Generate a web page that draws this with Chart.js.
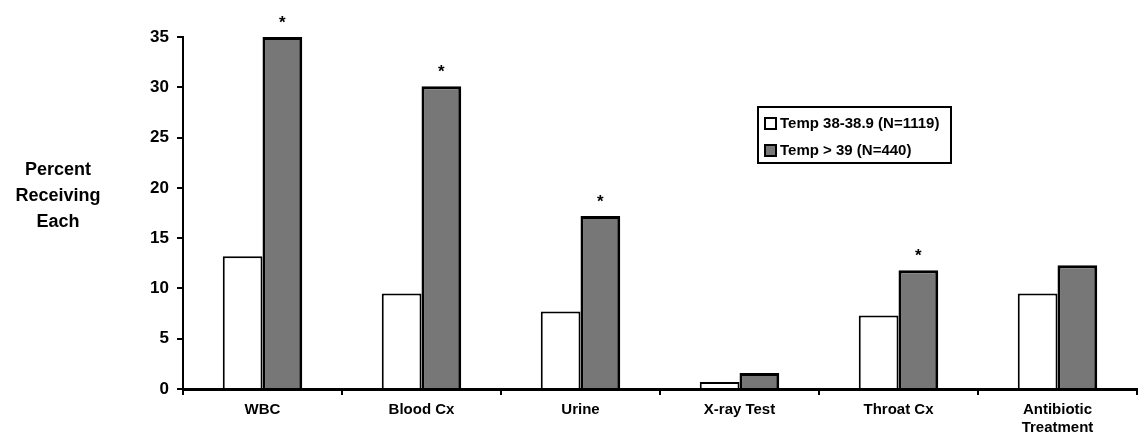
<!DOCTYPE html>
<html>
<head>
<meta charset="utf-8">
<script src="https://cdn.jsdelivr.net/npm/chart.js@4/dist/chart.umd.min.js"></script>
<style>
  html, body { margin: 0; padding: 0; background: #fff; }
  #wrap { position: relative; width: 1139px; height: 435px; }
</style>
</head>
<body>
<div id="wrap"><canvas id="chart"></canvas></div>
<script>
// Categories and series
const categories = ['WBC', 'Blood Cx', 'Urine', 'X-ray Test', 'Throat Cx', ['Antibiotic', 'Treatment']];
const lowTemp = [13.2, 9.5, 7.7, 0.7, 7.3, 9.5];
const highTemp = [35, 30.1, 17.2, 1.6, 11.8, 12.3];
const highTempStar = [true, true, true, false, true, false];
const seriesLabels = ['Temp 38-38.9 (N=1119)', 'Temp > 39 (N=440)'];
const yTicks = [0, 5, 10, 15, 20, 25, 30, 35];

const FONT = 'Liberation Sans, Arial, sans-serif';
const GRAY = '#777777';

// Y axis title, stars and the boxed legend
const extras = {
  id: 'extras',
  afterDraw(chart) {
    const ctx = chart.ctx;
    ctx.save();
    ctx.fillStyle = '#000';
    ctx.textAlign = 'center';
    ctx.textBaseline = 'middle';
    ctx.font = 'bold 18px ' + FONT;
    ['Percent', 'Receiving', 'Each'].forEach((t, i) => ctx.fillText(t, 58, 170 + i * 26));

    // significance stars over the high-temp bars
    const meta = chart.getDatasetMeta(1);
    ctx.font = 'bold 17px ' + FONT;
    meta.data.forEach((bar, i) => {
      if (highTempStar[i]) ctx.fillText('*', bar.x, bar.y - 14);
    });

    // legend box
    const lx = 758, ly = 107, lw = 193, lh = 56;
    ctx.lineWidth = 2;
    ctx.strokeStyle = '#000';
    ctx.strokeRect(lx, ly, lw, lh);
    ctx.font = 'bold 15px ' + FONT;
    ctx.textAlign = 'left';
    const fills = ['#fff', GRAY];
    seriesLabels.forEach((lab, i) => {
      const y = ly + 16 + i * 27;
      ctx.fillStyle = fills[i];
      ctx.fillRect(765, y - 5, 11, 11);
      ctx.strokeRect(765, y - 5, 11, 11);
      ctx.fillStyle = '#000';
      ctx.fillText(lab, 780, y + 1);
    });
    ctx.restore();
  }
};

new Chart(document.getElementById('chart'), {
  type: 'bar',
  data: {
    labels: categories,
    datasets: [
      {
        label: seriesLabels[0],
        data: lowTemp,
        backgroundColor: '#fff',
        borderColor: '#000',
        borderWidth: 2,
        categoryPercentage: 0.5,
        barPercentage: 1.0
      },
      {
        label: seriesLabels[1],
        data: highTemp,
        backgroundColor: GRAY,
        borderColor: '#000',
        borderWidth: 3,
        categoryPercentage: 0.5,
        barPercentage: 1.0
      }
    ]
  },
  options: {
    responsive: true,
    maintainAspectRatio: false,
    animation: false,
    layout: { padding: { top: 37, right: 2, left: 0, bottom: 0 } },
    plugins: {
      legend: { display: false },
      tooltip: { enabled: false }
    },
    scales: {
      x: {
        offset: true,
        grid: { offset: true, drawOnChartArea: false, drawTicks: true, tickLength: 6, color: '#000', lineWidth: 2 },
        border: { color: '#000', width: 3 },
        ticks: {
          color: '#000',
          font: { family: FONT, size: 15, weight: 'bold' },
          maxRotation: 0,
          autoSkip: false,
          padding: 6
        },
        afterFit(scale) { scale.height = 46; }
      },
      y: {
        min: 0,
        max: 35,
        afterBuildTicks(scale) { scale.ticks = yTicks.map(v => ({ value: v })); },
        grid: { drawOnChartArea: false, drawTicks: true, tickLength: 6, color: '#000', lineWidth: 2 },
        border: { color: '#000', width: 2 },
        ticks: {
          color: '#000',
          font: { family: FONT, size: 17, weight: 'bold' },
          padding: 8
        },
        afterFit(scale) { scale.width = 183; }
      }
    }
  },
  plugins: [extras]
});
</script>
</body>
</html>
